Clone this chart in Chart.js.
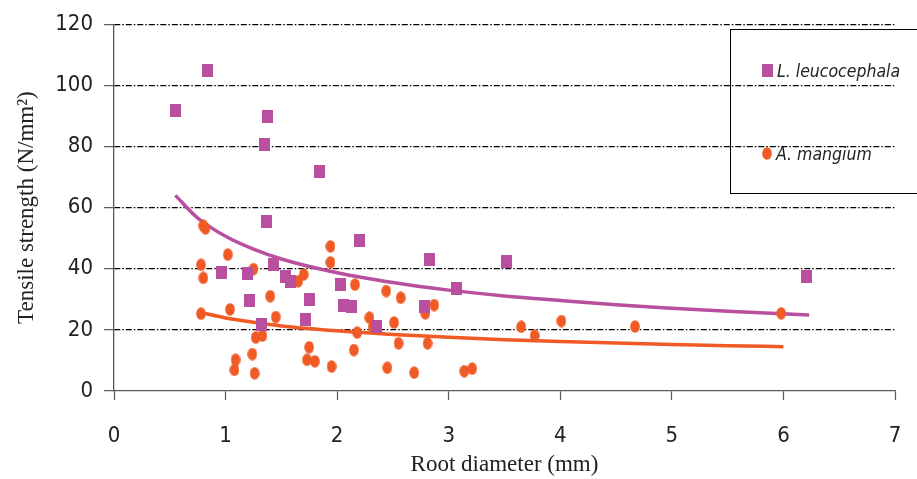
<!DOCTYPE html>
<html>
<head>
<meta charset="utf-8">
<script src="https://cdn.jsdelivr.net/npm/chart.js@4"></script>
<style>
  html, body { margin: 0; padding: 0; background: #ffffff; }
  #wrap { width: 917px; height: 479px; position: relative; }
</style>
</head>
<body>
<div id="wrap"><canvas id="rootChart"></canvas></div>
<script>
// L. leucocephala (squares)
const lcDiameter = [0.55, 0.84, 0.96, 1.20, 1.21, 1.32, 1.35, 1.37, 1.38, 1.43, 1.54, 1.58, 1.72, 1.75, 1.84,
    2.03, 2.06, 2.13, 2.20, 2.35, 2.78, 2.83, 3.07, 3.52, 6.21];
const lcStrength = [91.7, 104.7, 38.9, 38.4, 29.6, 21.6, 80.7, 55.6, 89.7, 41.5, 37.4, 35.9, 23.5, 30.0, 71.7,
    35.0, 28.1, 27.6, 49.4, 21.0, 27.8, 43.1, 33.5, 42.4, 37.5];

// A. mangium (circles)
const amDiameter = [0.78, 0.78, 0.80, 0.80, 0.82, 1.02, 1.04, 1.08, 1.09, 1.24, 1.25, 1.26, 1.27, 1.33, 1.40,
    1.45, 1.65, 1.70, 1.73, 1.75, 1.80, 1.94, 1.94, 1.95, 2.15, 2.16, 2.18, 2.29, 2.32, 2.44,
    2.45, 2.51, 2.55, 2.57, 2.69, 2.79, 2.81, 2.87, 3.14, 3.21, 3.65, 3.77, 4.01, 4.67, 5.98];
const amStrength = [25.3, 41.3, 37.0, 54.1, 53.2, 44.6, 26.7, 6.9, 10.2, 12.1, 39.9, 5.8, 17.5, 18.1, 31.0,
    24.2, 35.9, 38.1, 10.2, 14.3, 9.7, 47.3, 42.1, 8.0, 13.4, 34.8, 19.1, 24.0, 21.0, 32.7,
    7.6, 22.4, 15.6, 30.5, 6.0, 25.4, 15.6, 28.1, 6.5, 7.3, 21.0, 18.1, 22.9, 21.1, 25.4];

// trend curves
const lcTrendX = [0.55, 0.75, 1.0, 1.25, 1.5, 2.0, 2.5, 3.0, 3.5, 4.0, 4.5, 5.0, 5.5, 6.23];
const lcTrendY = [64.0, 56.6, 50.6, 46.4, 43.2, 38.7, 35.5, 33.0, 31.1, 29.6, 28.2, 27.1, 26.1, 24.9];
const amTrendX = [0.79, 1.0, 1.25, 1.5, 2.0, 2.5, 3.0, 3.5, 4.0, 4.5, 5.0, 5.5, 6.0];
const amTrendY = [25.6, 23.9, 22.5, 21.3, 19.7, 18.5, 17.6, 16.8, 16.2, 15.7, 15.2, 14.8, 14.5];

const seriesNames = ['L. leucocephala', 'A. mangium'];
const xAxisTitle = 'Root diameter (mm)';
const yAxisTitle = 'Tensile strength (N/mm\u00B2)';

const purple = '#b84f9f';
const orange = '#f05a24';
const axisGrey = '#595959';
const tickFont = "'DejaVu Sans Condensed', 'Liberation Sans', sans-serif";
const titleFont = "'Liberation Serif', 'DejaVu Serif', serif";

function toPoints(xs, ys) {
    return xs.map((x, i) => ({ x: x, y: ys[i] }));
}

// small marker images (markers in the picture are a bit taller than wide)
function makeMarker(kind, color) {
    const c = document.createElement('canvas');
    c.width = kind === 'rect' ? 11 : 10;
    c.height = 13;
    const g = c.getContext('2d');
    g.fillStyle = color;
    if (kind === 'rect') {
        g.fillRect(0, 0, 11, 13);
    } else {
        g.beginPath();
        g.ellipse(5, 6.5, 4.8, 6.2, 0, 0, Math.PI * 2);
        g.fill();
    }
    return c;
}

document.addEventListener('DOMContentLoaded', function () {
    const ctx = document.getElementById('rootChart').getContext('2d');
    const squareMark = makeMarker('rect', purple);
    const dotMark = makeMarker('circle', orange);

    // legend box, drawn over the plot like the original
    const boxLegend = {
        id: 'boxLegend',
        afterDraw(chart) {
            const c = chart.ctx;
            c.save();
            c.strokeStyle = '#000000';
            c.lineWidth = 1;
            c.strokeRect(730.5, 29.5, 220, 164);
            c.drawImage(squareMark, 762, 64);
            c.drawImage(dotMark, 762, 147);
            c.fillStyle = '#222222';
            c.font = "italic 17.5px " + tickFont;
            c.textBaseline = 'alphabetic';
            c.fillText(seriesNames[0], 777, 77);
            c.fillText(seriesNames[1], 776, 160);
            c.restore();
        }
    };

    const config = {
        type: 'scatter',
        data: {
            datasets: [
                {
                    label: seriesNames[0],
                    data: toPoints(lcDiameter, lcStrength),
                    pointStyle: squareMark,
                    backgroundColor: purple,
                    borderColor: purple
                },
                {
                    label: seriesNames[1],
                    data: toPoints(amDiameter, amStrength),
                    pointStyle: dotMark,
                    backgroundColor: orange,
                    borderColor: orange
                },
                {
                    label: 'lc trend',
                    data: toPoints(lcTrendX, lcTrendY),
                    showLine: true,
                    borderColor: purple,
                    borderWidth: 3.5,
                    pointRadius: 0,
                    cubicInterpolationMode: 'monotone'
                },
                {
                    label: 'am trend',
                    data: toPoints(amTrendX, amTrendY),
                    showLine: true,
                    borderColor: orange,
                    borderWidth: 3.5,
                    pointRadius: 0,
                    cubicInterpolationMode: 'monotone'
                }
            ]
        },
        options: {
            responsive: true,
            maintainAspectRatio: false,
            animation: false,
            layout: {
                padding: { top: 21, right: 22, left: 0, bottom: 0 }
            },
            plugins: {
                legend: { display: false },
                tooltip: { enabled: false }
            },
            scales: {
                x: {
                    type: 'linear',
                    min: 0,
                    max: 7,
                    afterFit: function (scale) {
                        scale.height = 88;
                        scale.paddingLeft = 0;
                        scale.paddingRight = 0;
                    },
                    ticks: {
                        stepSize: 1,
                        padding: 23,
                        color: '#222222',
                        font: { family: tickFont, size: 22 }
                    },
                    grid: {
                        drawOnChartArea: false,
                        drawTicks: true,
                        tickLength: 9,
                        tickColor: axisGrey,
                        tickWidth: 1.2
                    },
                    border: { color: axisGrey, width: 1.3 },
                    title: {
                        display: true,
                        text: xAxisTitle,
                        color: '#222222',
                        padding: { top: 0, bottom: 0 },
                        font: { family: titleFont, size: 23 }
                    }
                },
                y: {
                    min: 0,
                    max: 120,
                    afterFit: function (scale) { scale.width = 114; },
                    ticks: {
                        stepSize: 20,
                        padding: 11,
                        color: '#222222',
                        font: { family: tickFont, size: 22 }
                    },
                    grid: {
                        color: function (c) { return c.tick && c.tick.value === 0 ? 'rgba(0,0,0,0)' : '#000000'; },
                        lineWidth: 1.3,
                        drawTicks: true,
                        tickLength: 10,
                        tickColor: axisGrey,
                        tickWidth: 1.2,
                        tickBorderDash: []
                    },
                    border: { color: axisGrey, width: 1.3, dash: [6, 2, 1.5, 2] },
                    title: {
                        display: true,
                        text: yAxisTitle,
                        color: '#222222',
                        padding: { top: 13, bottom: 0 },
                        font: { family: titleFont, size: 23 }
                    }
                }
            }
        },
        plugins: [boxLegend]
    };

    const rootChart = new Chart(ctx, config);
});
</script>
</body>
</html>
